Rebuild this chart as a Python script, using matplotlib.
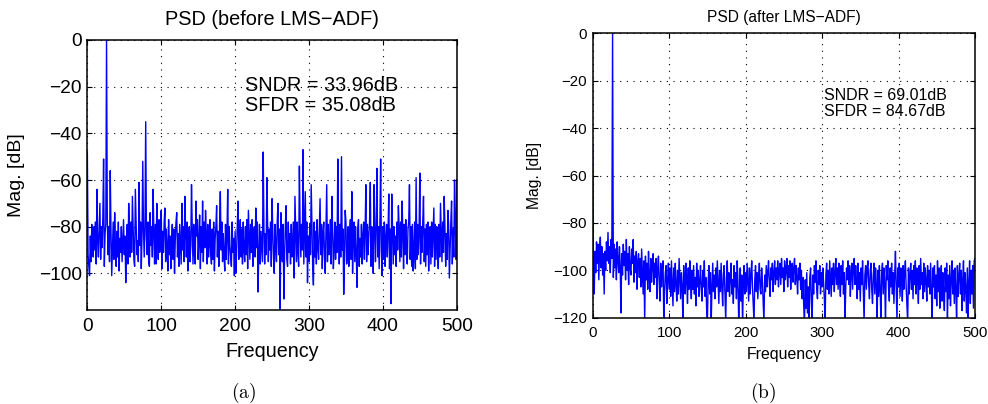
import matplotlib
matplotlib.use("Agg")
import matplotlib.pyplot as plt
import numpy as np

plt.rcParams["font.family"] = ["Liberation Sans", "DejaVu Sans"]
plt.rcParams["mathtext.fontset"] = "cm"

# PSD in dB, one value per 1 Hz bin from 0 to 500 Hz
psd_before = [
    -48, -92, -97, -101, -84, -95, -79, -88, -93, -80, -90, -78, -96, -64, -86, -93, -81, -70, -94, -80,
    -89, -76, -51, -97, -83, -79, 0, -77, -92, -80, -95, -56, -82, -101, -90, -78, -94, -74, -88, -97,
    -82, -93, -78, -99, -85, -91, -80, -95, -86, -77, -92, -84, -104, -88, -79, -96, -70, -83, -93, -78,
    -91, -67, -80, -94, -97, -64, -79, -92, -86, -95, -61, -88, -78, -98, -84, -52, -81, -93, -80, -35,
    -84, -92, -78, -95, -97, -74, -88, -80, -93, -64, -82, -96, -79, -96, -70, -83, -94, -77, -91, -85,
    -73, -98, -82, -91, -78, -72, -95, -81, -89, -99, -77, -92, -84, -98, -87, -79, -94, -81, -100, -86,
    -78, -74, -93, -83, -97, -79, -88, -96, -70, -90, -80, -95, -67, -82, -93, -78, -99, -85, -80, -95,
    -88, -62, -81, -96, -79, -92, -96, -69, -84, -77, -94, -86, -75, -98, -80, -91, -69, -95, -78, -89,
    -73, -83, -96, -79, -93, -88, -77, -92, -96, -81, -94, -78, -99, -85, -80, -71, -93, -82, -97, -79,
    -65, -90, -78, -95, -83, -92, -99, -79, -94, -84, -64, -96, -80, -88, -93, -97, -78, -91, -85, -101,
    -82, -100, -91, -79, -69, -94, -87, -77, -93, -81, -96, -78, -90, -95, -80, -92, -77, -98, -73, -84,
    -94, -79, -91, -77, -97, -83, -80, -93, -72, -89, -78, -108, -92, -79, -96, -82, -89, -95, -48, -80,
    -96, -83, -92, -59, -79, -95, -81, -90, -78, -97, -68, -82, -93, -100, -79, -88, -95, -78, -70, -92,
    -81, -116, -74, -90, -95, -79, -111, -92, -80, -71, -94, -97, -78, -91, -83, -96, -79, -93, -87, -78,
    -102, -67, -82, -95, -78, -91, -97, -54, -80, -93, -79, -90, -47, -96, -81, -65, -93, -78, -104, -84,
    -95, -79, -92, -62, -80, -97, -105, -78, -93, -82, -96, -77, -89, -94, -80, -68, -92, -79, -98, -83,
    -78, -93, -100, -81, -62, -95, -79, -92, -86, -77, -96, -67, -81, -98, -90, -78, -94, -80, -91, -51,
    -84, -96, -79, -93, -50, -90, -81, -109, -95, -73, -78, -96, -92, -80, -97, -83, -77, -94, -65, -100,
    -83, -78, -95, -80, -92, -106, -81, -77, -97, -85, -93, -79, -96, -84, -78, -94, -81, -62, -95, -79,
    -92, -84, -78, -61, -97, -80, -89, -100, -62, -81, -95, -78, -55, -93, -80, -98, -79, -51, -90, -101,
    -80, -94, -78, -97, -85, -79, -93, -82, -66, -98, -81, -113, -66, -79, -96, -80, -92, -84, -97, -78,
    -90, -71, -80, -95, -78, -93, -69, -82, -98, -79, -92, -77, -90, -96, -81, -78, -62, -94, -80, -97,
    -79, -99, -90, -78, -98, -59, -94, -79, -92, -83, -57, -96, -80, -91, -78, -67, -95, -81, -97, -79,
    -92, -78, -99, -84, -80, -96, -78, -93, -82, -72, -97, -79, -94, -80, -88, -98, -79, -93, -70, -83,
    -95, -78, -91, -67, -80, -97, -83, -94, -73, -79, -102, -90, -78, -69, -96, -81, -93, -60, -80, -94,
    -60,
]

psd_after = [
    -47, -100, -110, -92, -101, -88, -97, -89, -104, -91, -86, -99, -90, -102, -93, -110, -92, -100, -88, -96,
    -84, -97, -90, -101, -87, -95, 0, -103, -89, -99, -91, -104, -88, -96, -101, -90, -98, -118, -93, -102,
    -89, -98, -92, -104, -87, -100, -93, -106, -90, -99, -102, -91, -97, -87, -105, -94, -101, -92, -108, -96,
    -93, -103, -95, -107, -91, -101, -110, -96, -122, -94, -104, -97, -108, -92, -102, -109, -95, -105, -98, -93,
    -106, -97, -103, -95, -112, -99, -94, -105, -113, -97, -107, -100, -96, -122, -109, -101, -98, -114, -104, -97,
    -108, -99, -111, -96, -105, -115, -99, -109, -97, -106, -113, -100, -110, -95, -104, -112, -101, -107, -122, -98,
    -106, -110, -97, -104, -114, -99, -108, -96, -105, -112, -100, -108, -98, -110, -103, -115, -97, -107, -100, -111,
    -105, -98, -108, -113, -100, -107, -96, -111, -103, -116, -122, -105, -98, -110, -101, -122, -107, -97, -109, -102,
    -112, -99, -107, -96, -105, -114, -100, -109, -97, -107, -115, -102, -98, -110, -122, -104, -96, -109, -101, -111,
    -103, -97, -110, -104, -114, -98, -107, -101, -112, -96, -105, -122, -109, -99, -113, -102, -122, -107, -98, -110,
    -101, -109, -97, -105, -113, -99, -110, -102, -96, -107, -115, -122, -104, -98, -109, -101, -112, -103, -97, -108,
    -110, -99, -105, -113, -122, -102, -109, -98, -107, -101, -96, -105, -111, -99, -104, -97, -109, -101, -96, -106,
    -99, -104, -96, -107, -100, -97, -106, -95, -103, -99, -109, -96, -104, -100, -95, -107, -98, -103, -96, -108,
    -100, -97, -105, -99, -95, -106, -98, -103, -110, -99, -104, -97, -108, -100, -112, -103, -115, -122, -104, -116,
    -101, -118, -107, -122, -103, -99, -113, -122, -102, -110, -98, -105, -96, -108, -112, -100, -106, -98, -110, -101,
    -107, -99, -105, -112, -122, -102, -97, -108, -100, -110, -96, -104, -111, -99, -106, -97, -109, -101, -95, -106,
    -99, -108, -97, -105, -111, -98, -106, -96, -110, -101, -122, -107, -99, -104, -96, -106, -98, -111, -101, -97,
    -108, -99, -95, -106, -98, -104, -112, -97, -108, -101, -113, -99, -106, -96, -110, -122, -102, -98, -108, -99,
    -96, -106, -112, -100, -97, -108, -114, -102, -97, -110, -99, -106, -122, -100, -111, -98, -108, -122, -101, -97,
    -110, -99, -106, -122, -98, -104, -96, -108, -113, -99, -107, -97, -110, -101, -114, -102, -92, -108, -122, -99,
    -107, -97, -111, -99, -104, -113, -98, -108, -101, -96, -107, -115, -122, -99, -110, -102, -97, -108, -100, -112,
    -98, -106, -96, -110, -99, -104, -114, -98, -108, -95, -106, -101, -112, -97, -109, -99, -104, -113, -98, -107,
    -100, -110, -97, -108, -122, -99, -107, -98, -112, -102, -115, -96, -109, -99, -116, -104, -98, -113, -101, -110,
    -117, -99, -109, -97, -122, -102, -112, -98, -115, -104, -96, -110, -100, -114, -99, -108, -122, -98, -111, -102,
    -97, -110, -100, -117, -104, -96, -113, -101, -108, -118, -99, -122, -105, -96, -114, -100, -110, -98, -116, -96,
    -95,
]

freq_step = 1.0  # Hz per bin
titles = ["PSD (before LMS\u2212ADF)", "PSD (after LMS\u2212ADF)"]
notes = ["SNDR = 33.96dB\nSFDR = 35.08dB", "SNDR = 69.01dB\nSFDR = 84.67dB"]
captions = ["(a)", "(b)"]


def style_axes(ax, fs):
    ax.grid(True, color="black", linestyle=(0, (1, 5)), linewidth=0.8)
    ax.tick_params(direction="in", top=True, right=True, length=3.5,
                   width=0.8, labelsize=fs)
    for sp in ax.spines.values():
        sp.set_linewidth(1.1)


fig = plt.figure(figsize=(9.88, 4.04), dpi=100)

# (a) before the adaptive filter
ax1 = fig.add_axes([0.0884, 0.2327, 0.3739, 0.6683])
f1 = np.arange(len(psd_before)) * freq_step
ax1.plot(f1, psd_before, color="#0000ff", lw=1.0)
ax1.set_xlim(0, 500)
ax1.set_ylim(-115.7, 0)
ax1.set_xticks(range(0, 501, 100))
ax1.set_yticks(range(-100, 1, 20))
style_axes(ax1, 13.8)
ax1.set_title(titles[0], fontsize=14.3, pad=10.5)
ax1.set_xlabel("Frequency", fontsize=14.2)
ax1.set_ylabel("Mag. [dB]", fontsize=14)
ax1.xaxis.set_label_coords(0.5, -0.118)
ax1.yaxis.set_label_coords(-0.169, 0.5)
ax1.tick_params(axis="x", pad=6)
ax1.tick_params(axis="y", pad=4)
ax1.text(213.5, -23.7, notes[0], fontsize=14.3, va="center", ha="left",
         linespacing=1.1)

# (b) after the adaptive filter
ax2 = fig.add_axes([0.5999, 0.2136, 0.3869, 0.7039])
f2 = np.arange(len(psd_after)) * freq_step
ax2.plot(f2, psd_after, color="#0000ff", lw=1.0)
ax2.set_xlim(0, 500)
ax2.set_ylim(-120, 0)
ax2.set_xticks(range(0, 501, 100))
ax2.set_yticks(range(-120, 1, 20))
style_axes(ax2, 10.8)
ax2.set_title(titles[1], fontsize=11.2, pad=8.5)
ax2.set_xlabel("Frequency", fontsize=11.4)
ax2.set_ylabel("Mag. [dB]", fontsize=11.3)
ax2.xaxis.set_label_coords(0.501, -0.102)
ax2.yaxis.set_label_coords(-0.133, 0.5)
ax2.tick_params(axis="x", pad=6)
ax2.tick_params(axis="y", pad=4)
ax2.text(302.5, -29.6, notes[1], fontsize=11.5, va="center", ha="left",
         linespacing=1.15)

fig.text(244 / 988, 1 - 393 / 404, r"$\mathrm{" + captions[0] + "}$",
         fontsize=14, ha="center", va="center")
fig.text(763 / 988, 1 - 393 / 404, r"$\mathrm{" + captions[1] + "}$",
         fontsize=14, ha="center", va="center")

fig.savefig("out.png", dpi=100)
